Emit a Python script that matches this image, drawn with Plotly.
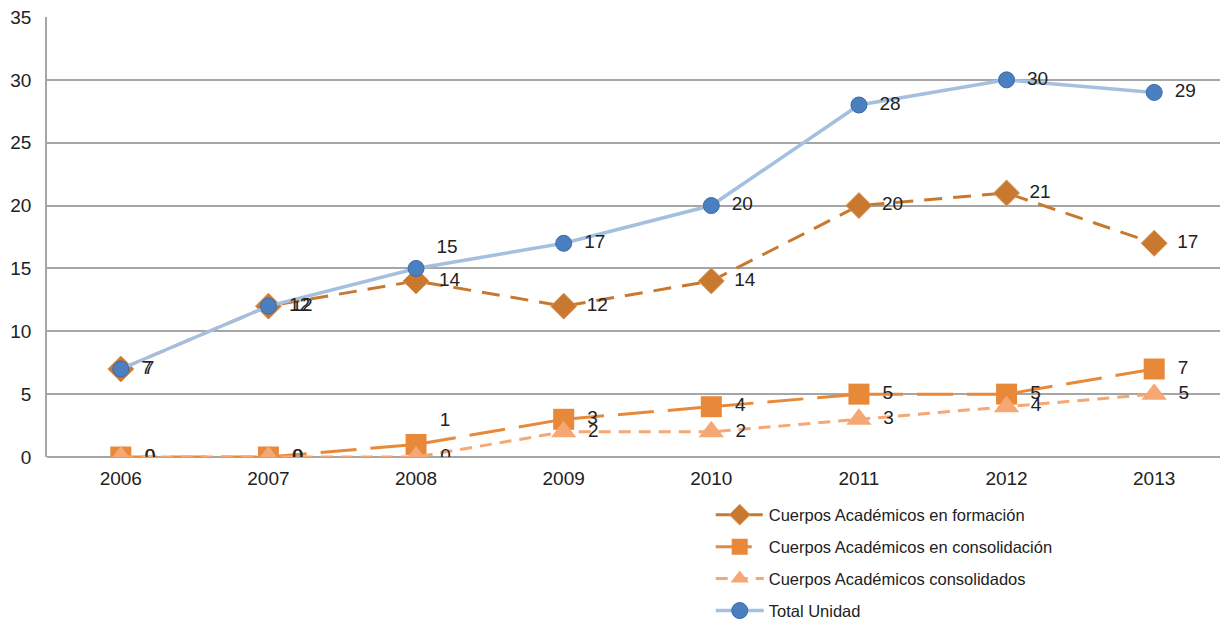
import plotly.graph_objects as go

years = ["2006", "2007", "2008", "2009", "2010", "2011", "2012", "2013"]
formacion = [7, 12, 14, 12, 14, 20, 21, 17]
consolidacion = [0, 0, 1, 3, 4, 5, 5, 7]
consolidados = [0, 0, 0, 2, 2, 3, 4, 5]
total = [7, 12, 15, 17, 20, 28, 30, 29]

names = ["Cuerpos Académicos en formación", "Cuerpos Académicos en consolidación",
         "Cuerpos Académicos consolidados", "Total Unidad"]

FONT = "Liberation Sans"
TXT = "#222222"
LBL = 19
PAD = "\u2002"


def labels(vals):
    return [PAD + str(v) for v in vals]


fig = go.Figure()

fig.add_trace(go.Scatter(
    x=years, y=formacion, name=names[0], mode="lines+markers+text",
    line=dict(color="#c8792f", width=3, dash="18px,11px"),
    marker=dict(symbol="diamond", size=20, color="#c8792f", line=dict(color="#d79a5f", width=1)),
    text=labels(formacion), textposition="middle right",
    textfont=dict(size=LBL, color=TXT, family=FONT), legendgroup="a",
))
fig.add_trace(go.Scatter(
    x=years, y=consolidacion, name=names[1], mode="lines+markers+text",
    line=dict(color="#e8893a", width=3, dash="36px,14px"),
    marker=dict(symbol="square", size=21, color="#e8893a"),
    text=labels(consolidacion),
    textposition=["middle right", "middle right", "top right", "middle right",
                  "middle right", "middle right", "middle right", "middle right"],
    textfont=dict(size=LBL, color=TXT, family=FONT), legendgroup="b",
))
fig.add_trace(go.Scatter(
    x=years, y=consolidados, name=names[2], mode="lines+markers+text",
    line=dict(color="#f5a774", width=3, dash="12px,8px"),
    marker=dict(symbol="triangle-up", size=22, color="#f5a774"),
    text=labels(consolidados), textposition="middle right",
    textfont=dict(size=LBL, color=TXT, family=FONT), legendgroup="c",
))
fig.add_trace(go.Scatter(
    x=years, y=total, name=names[3], mode="lines+markers+text",
    line=dict(color="#a5c0df", width=3.5),
    marker=dict(symbol="circle", size=16, color="#4a7fc0", line=dict(color="#3b6aa8", width=1)),
    text=labels(total),
    textposition=["middle right", "middle right", "top right", "middle right",
                  "middle right", "middle right", "middle right", "middle right"],
    textfont=dict(size=LBL, color=TXT, family=FONT), legendgroup="d",
))

fig.update_layout(
    width=1220, height=613,
    margin=dict(l=39, r=0, t=9, b=164, autoexpand=False),
    paper_bgcolor="white", plot_bgcolor="white",
    font=dict(family=FONT, size=19, color=TXT),
    showlegend=True,
    legend=dict(x=0.562, y=-0.092, xanchor="left", yanchor="top",
                font=dict(size=16.5, color=TXT, family=FONT),
                traceorder="grouped", tracegroupgap=7.5,
                bgcolor="rgba(0,0,0,0)", itemwidth=48),
    xaxis=dict(type="category", range=[-0.5, 7.5], showgrid=False,
               showline=False, ticks="", tickfont=dict(size=19, color=TXT),
               ticklabelstandoff=8, fixedrange=True, automargin=False),
    yaxis=dict(range=[0, 35], dtick=5, showgrid=True, gridcolor="#a6a6a6", gridwidth=1.5,
               showline=True, linecolor="#a6a6a6", linewidth=1.5, zeroline=True,
               zerolinecolor="#a6a6a6", zerolinewidth=1.5, ticks="",
               tickfont=dict(size=19, color=TXT), ticklabelstandoff=10,
               ticklabeloverflow="allow", automargin=False),
)

fig.write_html("out.html")
